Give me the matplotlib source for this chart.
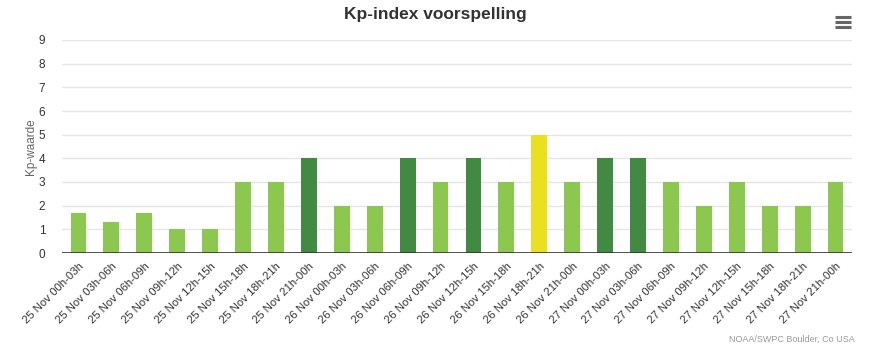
import matplotlib
matplotlib.use("Agg")
import matplotlib.pyplot as plt
from matplotlib.lines import Line2D

plt.rcParams['font.family'] = ['Liberation Sans', 'DejaVu Sans']

# tijdvakken en voorspelde Kp-waarden
labels = ["25 Nov 00h-03h", "25 Nov 03h-06h", "25 Nov 06h-09h", "25 Nov 09h-12h",
          "25 Nov 12h-15h", "25 Nov 15h-18h", "25 Nov 18h-21h", "25 Nov 21h-00h",
          "26 Nov 00h-03h", "26 Nov 03h-06h", "26 Nov 06h-09h", "26 Nov 09h-12h",
          "26 Nov 12h-15h", "26 Nov 15h-18h", "26 Nov 18h-21h", "26 Nov 21h-00h",
          "27 Nov 00h-03h", "27 Nov 03h-06h", "27 Nov 06h-09h", "27 Nov 09h-12h",
          "27 Nov 12h-15h", "27 Nov 15h-18h", "27 Nov 18h-21h", "27 Nov 21h-00h"]
kp = [1.67, 1.33, 1.67, 1, 1, 3, 3, 4, 2, 2, 4, 3, 4, 3, 5, 3, 4, 4, 3, 2, 3, 2, 2, 3]

def kleur(v):
    if v >= 5:
        return "#ebe01f"
    if v >= 4:
        return "#428a42"
    return "#8cc84f"

fig = plt.figure(figsize=(8.7, 3.51), dpi=100)
ax = fig.add_axes([62/870, 1-253/351, 790/870, 213/351])

x = range(len(kp))
ax.bar(x, kp, width=0.48, color=[kleur(v) for v in kp], zorder=3)

ax.set_xlim(-0.5, len(kp) - 0.5)
ax.set_ylim(0, 9)
ax.set_yticks(range(10))
ax.yaxis.grid(True, color="#e6e6e6", linewidth=1, zorder=0)
ax.axhline(0, color="#333333", linewidth=1.2, zorder=4)
for s in ax.spines.values():
    s.set_visible(False)
ax.tick_params(axis="y", length=0, pad=12, labelsize=8.5, labelcolor="#333333")
ax.tick_params(axis="x", length=0, pad=6, labelsize=8.2, labelcolor="#333333")
ax.set_xticks(list(x))
ax.set_xticklabels(labels, rotation=45, ha="right", rotation_mode="anchor")
ax.set_ylabel("Kp-waarde", fontsize=8.5, color="#666666", labelpad=1)

fig.text(0.5, 1-15/351, "Kp-index voorspelling", ha="center", va="center",
         fontsize=12.5, fontweight="bold", color="#333333")
fig.text(855/870, 1-339/351, "NOAA/SWPC Boulder, Co USA", ha="right", va="center",
         fontsize=6.5, color="#999999")

# menu-icoon rechtsboven
for yy in (17, 22, 27):
    fig.add_artist(Line2D([835/870, 851/870], [1-yy/351, 1-yy/351],
                          color="#666666", linewidth=2.2, solid_capstyle="butt"))

fig.savefig("out.png", dpi=100)
